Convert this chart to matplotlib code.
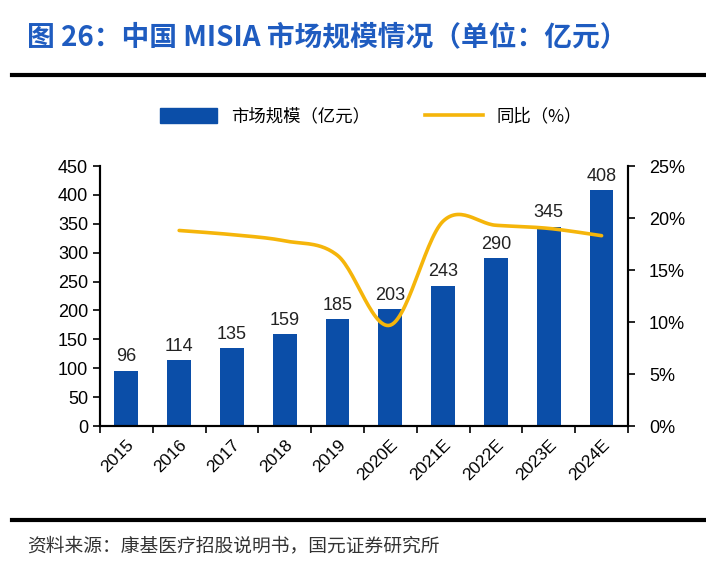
import numpy as np
import matplotlib
matplotlib.use("Agg")
import matplotlib.pyplot as plt
from matplotlib.lines import Line2D
from matplotlib.patches import Patch

plt.rcParams['font.family'] = ['Liberation Sans', 'Noto Sans CJK SC', 'DejaVu Sans']

# данные
years = ['2015', '2016', '2017', '2018', '2019', '2020E', '2021E', '2022E', '2023E', '2024E']
market_size = [96, 114, 135, 159, 185, 203, 243, 290, 345, 408]
yoy_pct = [None, 18.8, 18.4, 17.8, 16.4, 9.7, 19.7, 19.3, 19.0, 18.3]

BLUE = '#0b4ea8'
GOLD = '#f5b50a'
TITLE_BLUE = '#1f5cc0'
CJK = ['Noto Sans CJK SC', 'DejaVu Sans']


def smooth_curve(xs, ys, n=30):
    # сглаживание как в Excel (Catmull-Rom)
    xs = np.asarray(xs, float)
    ys = np.asarray(ys, float)
    px = np.concatenate([[xs[0]], xs, [xs[-1]]])
    py = np.concatenate([[ys[0]], ys, [ys[-1]]])
    out_x, out_y = [], []
    for i in range(1, len(px) - 2):
        t = np.linspace(0, 1, n)
        p0x, p1x, p2x, p3x = px[i - 1:i + 3]
        p0y, p1y, p2y, p3y = py[i - 1:i + 3]
        # безье с контрольными точками
        c1x = p1x + (p2x - p0x) / 6
        c1y = p1y + (p2y - p0y) / 6
        c2x = p2x - (p3x - p1x) / 6
        c2y = p2y - (p3y - p1y) / 6
        bx = (1 - t) ** 3 * p1x + 3 * (1 - t) ** 2 * t * c1x + 3 * (1 - t) * t ** 2 * c2x + t ** 3 * p2x
        by = (1 - t) ** 3 * p1y + 3 * (1 - t) ** 2 * t * c1y + 3 * (1 - t) * t ** 2 * c2y + t ** 3 * p2y
        out_x.extend(bx)
        out_y.extend(by)
    return np.array(out_x), np.array(out_y)


fig = plt.figure(figsize=(7.06, 5.74), dpi=100)
ax = fig.add_axes([0.1416, 0.2578, 0.7479, 0.453])
ax2 = ax.twinx()

x = np.arange(len(years))
ax.bar(x, market_size, width=0.45, color=BLUE, zorder=2)
for xi, v in zip(x, market_size):
    ax.text(xi, v + 9, str(v), ha='center', va='bottom', fontsize=13, color='#222222')

ax.set_xlim(-0.5, len(years) - 0.5)
ax.set_ylim(0, 450)
ax.set_yticks(np.arange(0, 451, 50))
ax.set_xticks(x)
ax.set_xticklabels(years, rotation=45, ha='right', rotation_mode='anchor', fontsize=12.5)
ax.set_xticks(np.arange(-0.5, len(years), 1), minor=True)
ax.tick_params(axis='x', which='major', length=0, pad=8)
ax.tick_params(axis='x', which='minor', length=5, direction='out', width=1.2)
ax.tick_params(axis='y', labelsize=13, length=5, width=1.2, direction='out')

yx = [xi for xi, v in zip(x, yoy_pct) if v is not None]
yv = [v for v in yoy_pct if v is not None]
sx, sy = smooth_curve(yx, yv)
ax2.plot(sx, sy, color=GOLD, lw=2.6, solid_capstyle='round', zorder=3)
ax2.set_ylim(0, 25)
ax2.set_yticks(np.arange(0, 26, 5))
ax2.set_yticklabels([f'{v}%' for v in range(0, 26, 5)])
ax2.tick_params(axis='y', labelsize=13, length=5, width=1.2, direction='out', pad=10)

for a in (ax, ax2):
    a.spines['top'].set_visible(False)
    for s in ('left', 'right', 'bottom'):
        a.spines[s].set_linewidth(1.5)

# заголовок
fig.text(0.038, 0.935, '图 26：中国 MISIA 市场规模情况（单位：亿元）', fontsize=20,
         fontweight='bold', color=TITLE_BLUE, va='center', ha='left', family=CJK)
fig.add_artist(Line2D([0.017, 1.0], [0.869, 0.869], color='black', lw=3))
fig.add_artist(Line2D([0.017, 1.0], [0.094, 0.094], color='black', lw=3))
fig.text(0.038, 0.05, '资料来源：康基医疗招股说明书，国元证券研究所', fontsize=13.5,
         color='#333333', va='center', ha='left', family=CJK)

handles = [Patch(color=BLUE), Line2D([0], [0], color=GOLD, lw=2.6)]
fig.legend(handles, ['市场规模（亿元）', '同比（%）'], loc='center',
           bbox_to_anchor=(0.525, 0.797), ncol=2, frameon=False,
           handlelength=3.3, handleheight=0.9, columnspacing=3.2,
           prop={'family': CJK, 'size': 12.5})

fig.savefig('out.png', dpi=100)
